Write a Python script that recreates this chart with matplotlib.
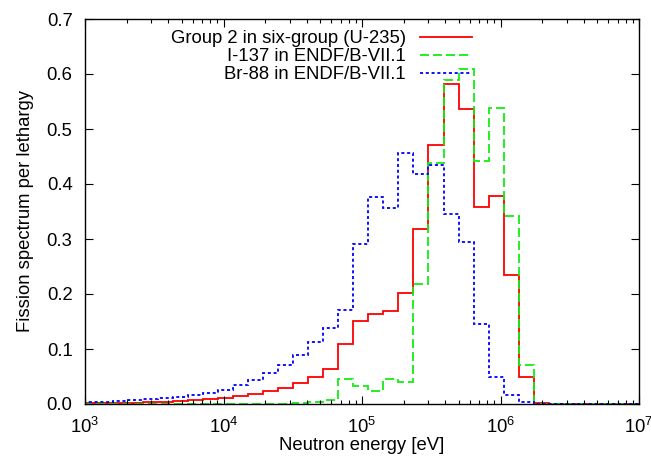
import matplotlib
matplotlib.use('Agg')
import matplotlib.pyplot as plt
import numpy as np

plt.rcParams['font.family'] = ['Liberation Sans', 'DejaVu Sans']
plt.rcParams['mathtext.fontset'] = 'custom'
plt.rcParams['mathtext.rm'] = 'Liberation Sans'
plt.rcParams['mathtext.it'] = 'Liberation Sans:italic'
plt.rcParams['mathtext.bf'] = 'Liberation Sans:bold'

# Lethargy grid: bins of width 0.25 going down from 10 MeV
top_energy = 1e7
lethargy_step = 0.25
n_bins = 37

# Values per bin, listed from the highest-energy bin downward
group2 = [0, 0, 0, 0, 0, 0, 0.002, 0.050, 0.235, 0.378, 0.358, 0.537, 0.581,
          0.471, 0.318, 0.202, 0.169, 0.163, 0.151, 0.110, 0.064, 0.050,
          0.039, 0.030, 0.024, 0.018, 0.0145, 0.0115, 0.0085, 0.0067, 0.005,
          0.0036, 0.003, 0.0025, 0.002, 0.0015, 0.001]
i137 = [0, 0, 0, 0, 0, 0, 0, 0.071, 0.342, 0.538, 0.442, 0.6085, 0.590,
        0.438, 0.218, 0.040, 0.045, 0.024, 0.033, 0.0455, 0.008, 0.003,
        0.001, 0, 0, 0, 0, 0, 0, 0, 0, 0, 0, 0, 0, 0, 0]
br88 = [0, 0, 0, 0, 0, 0, 0, 0.004, 0.0164, 0.0497, 0.1455, 0.295, 0.346,
        0.435, 0.418, 0.457, 0.357, 0.376, 0.291, 0.171, 0.139, 0.112,
        0.090, 0.071, 0.056, 0.044, 0.034, 0.026, 0.020, 0.0158, 0.0127,
        0.0103, 0.0085, 0.007, 0.0055, 0.0045, 0.0035]

labels = ['Group 2 in six-group (U-235)', 'I-137 in ENDF/B-VII.1',
          'Br-88 in ENDF/B-VII.1']

edges = top_energy * np.exp(-lethargy_step * np.arange(n_bins + 1))
edges = edges[::-1]

fs = 13.3

fig = plt.figure(figsize=(6.51, 4.63), dpi=100)
ax = fig.add_axes([85/651, 59/463, 554/651, 385/463])

ax.stairs(group2[::-1], edges, baseline=None, color='#ff0000', lw=1.3,
          label=labels[0])
ax.stairs(i137[::-1], edges, baseline=None, color='#11ee11', lw=1.3,
          ls=(0, (5, 2.2)), label=labels[1])
ax.stairs(br88[::-1], edges, baseline=None, color='#0000ff', lw=1.3,
          ls=(0, (1.7, 1.5)), label=labels[2])

ax.set_xscale('log')
ax.set_xlim(1e3, 1e7)
ax.set_ylim(0, 0.7)
ax.set_yticks(np.arange(0, 0.71, 0.1))
ax.yaxis.set_major_formatter(matplotlib.ticker.FormatStrFormatter('%.1f'))

ax.tick_params(which='both', direction='in', top=True, right=True,
               labelsize=fs)
ax.tick_params(which='major', length=6, width=0.8)
ax.tick_params(which='minor', length=3, width=0.8)
ax.tick_params(axis='x', pad=9)
ax.tick_params(axis='y', pad=9)
for s in ax.spines.values():
    s.set_linewidth(1.0)

ax.set_xlabel('Neutron energy [eV]', fontsize=fs, labelpad=0)
ax.set_ylabel('Fission spectrum per lethargy', fontsize=fs, labelpad=9)

ax.legend(loc='upper right', bbox_to_anchor=(0.718, 1.0), frameon=False,
          markerfirst=False, fontsize=fs, handlelength=2.8,
          handletextpad=0.75, labelspacing=0.06, borderaxespad=0.2)

fig.savefig('out.png', dpi=100)
